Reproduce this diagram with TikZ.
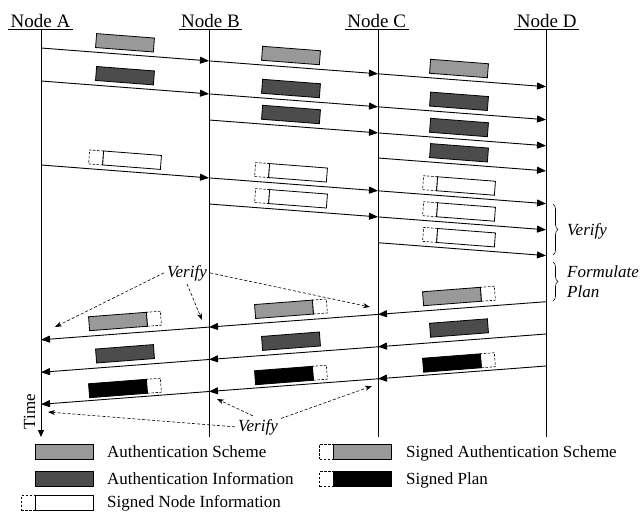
\documentclass[tikz,border=0pt]{standalone}
\usepackage{fontspec}
\setmainfont{Liberation Serif}
\usetikzlibrary{arrows.meta,decorations.pathreplacing}
\definecolor{gAS}{gray}{0.6}
\definecolor{gAI}{gray}{0.3}
\begin{document}
\begin{tikzpicture}[x=1pt,y=-1pt,
 msg/.style={line width=0.9pt,-{Triangle[length=9pt,width=7pt]}},
 life/.style={line width=0.8pt},
 pk/.style={draw,line width=0.8pt,minimum width=58pt,minimum height=14pt,inner sep=0pt,outer sep=0pt},
 sq/.style={draw,dash pattern=on 2.5pt off 1.5pt,line width=0.6pt,minimum width=14pt,minimum height=14pt,inner sep=0pt,outer sep=0pt},
 vf/.style={dash pattern=on 3pt off 2pt,line width=0.6pt,-{Stealth[length=7pt,width=5pt]}},
 fw/.style={rotate=-4.4},
 bw/.style={rotate=4.4},
 hdr/.style={font=\fontsize{19}{22}\selectfont,inner xsep=2.5pt,inner ysep=2pt,anchor=base},
 txt/.style={font=\fontsize{17}{20}\selectfont,inner sep=3pt},
 itxt/.style={font=\fontsize{17}{20}\selectfont\itshape,inner sep=3pt},
 brc/.style={decorate,decoration={brace,amplitude=5pt},line width=0.6pt}]
\useasboundingbox (0,0) rectangle (641,512);

% headers
\node[hdr] (hA) at (40.5,27) {Node A};
\node[hdr] (hB) at (210.5,27) {Node B};
\node[hdr] (hC) at (376.7,27) {Node C};
\node[hdr] (hD) at (546.7,27) {Node D};
\foreach \n in {A,B,C,D}{\draw[line width=0.8pt] (h\n.south west) -- (h\n.south east);}

% lifelines
\coordinate (eA) at (41,437);
\coordinate (eB) at (209,437);
\coordinate (eC) at (378,437);
\coordinate (eD) at (546,437);
\draw[life,-{Triangle[length=7pt,width=6pt]}] (hA.south -| eA) -- (eA);
\draw[life] (hB.south -| eB) -- (eB);
\draw[life] (hC.south -| eC) -- (eC);
\draw[life] (hD.south -| eD) -- (eD);
\node[txt,rotate=90,anchor=base] (time) at (35,411.5) {Time};

% message coordinates
\coordinate (r1a) at (41,48);   \coordinate (r1b) at (209,60.9);  \coordinate (r1c) at (378,73.8);  \coordinate (r1d) at (546,86.7);
\coordinate (r2a) at (41,81);   \coordinate (r2b) at (209,93.9);  \coordinate (r2c) at (378,106.8); \coordinate (r2d) at (546,119.7);
\coordinate (r3b) at (209,120); \coordinate (r3c) at (378,132.9); \coordinate (r3d) at (546,145.8);
\coordinate (r4c) at (378,158); \coordinate (r4d) at (546,170.9);
\coordinate (r5a) at (41,165);  \coordinate (r5b) at (209,177.9); \coordinate (r5c) at (378,190.8); \coordinate (r5d) at (546,203.7);
\coordinate (r6b) at (209,204); \coordinate (r6c) at (378,216.9); \coordinate (r6d) at (546,229.8);
\coordinate (r7c) at (378,242.7); \coordinate (r7d) at (546,255.6);
\coordinate (r8d) at (546,301.7); \coordinate (r8c) at (378,314.4); \coordinate (r8b) at (209,327.1); \coordinate (r8a) at (41,339.8);
\coordinate (r9d) at (546,334);   \coordinate (r9c) at (378,346.8); \coordinate (r9b) at (209,359.5); \coordinate (r9a) at (41,372.3);
\coordinate (r10d) at (546,366);  \coordinate (r10c) at (378,378.8); \coordinate (r10b) at (209,391.5); \coordinate (r10a) at (41,404.3);

% messages
\draw[msg] (r1a) -- (r1b); \draw[msg] (r1b) -- (r1c); \draw[msg] (r1c) -- (r1d);
\draw[msg] (r2a) -- (r2b); \draw[msg] (r2b) -- (r2c); \draw[msg] (r2c) -- (r2d);
\draw[msg] (r3b) -- (r3c); \draw[msg] (r3c) -- (r3d);
\draw[msg] (r4c) -- (r4d);
\draw[msg] (r5a) -- (r5b); \draw[msg] (r5b) -- (r5c); \draw[msg] (r5c) -- (r5d);
\draw[msg] (r6b) -- (r6c); \draw[msg] (r6c) -- (r6d);
\draw[msg] (r7c) -- (r7d);
\draw[msg] (r8d) -- (r8c); \draw[msg] (r8c) -- (r8b); \draw[msg] (r8b) -- (r8a);
\draw[msg] (r9d) -- (r9c); \draw[msg] (r9c) -- (r9b); \draw[msg] (r9b) -- (r9a);
\draw[msg] (r10d) -- (r10c); \draw[msg] (r10c) -- (r10b); \draw[msg] (r10b) -- (r10a);

% forward packets
\node[pk,fill=gAS,fw] (p1a) at (125,42.8) {};
\node[pk,fill=gAS,fw] (p1b) at (291,55.5) {};
\node[pk,fill=gAS,fw] (p1c) at (459,68.5) {};
\node[pk,fill=gAI,fw] (p2a) at (125,75.7) {};
\node[pk,fill=gAI,fw] (p2b) at (291,88.5) {};
\node[pk,fill=gAI,fw] (p2c) at (459,101.3) {};
\node[pk,fill=gAI,fw] (p3b) at (291,114.5) {};
\node[pk,fill=gAI,fw] (p3c) at (459,127.5) {};
\node[pk,fill=gAI,fw] (p4c) at (459,152.8) {};
\node[pk,fill=white,fw] (p5a) at (132,160.2) {};
\node[pk,fill=white,fw] (p5b) at (298,172.8) {};
\node[pk,fill=white,fw] (p5c) at (466,186) {};
\node[pk,fill=white,fw] (p6b) at (298,198.8) {};
\node[pk,fill=white,fw] (p6c) at (466,212) {};
\node[pk,fill=white,fw] (p7c) at (466,237.7) {};
\foreach \p in {p5a,p5b,p5c,p6b,p6c,p7c}{\node[sq,fw,anchor=east] (s\p) at (\p.west) {};}

% backward packets
\node[pk,fill=gAS,bw] (p8a) at (118,321.5) {};
\node[pk,fill=gAS,bw] (p8b) at (284,309.3) {};
\node[pk,fill=gAS,bw] (p8c) at (452,296.5) {};
\node[pk,fill=gAI,bw] (p9a) at (125,353.8) {};
\node[pk,fill=gAI,bw] (p9b) at (291,341.2) {};
\node[pk,fill=gAI,bw] (p9c) at (459,328) {};
\node[pk,fill=black,bw] (p10a) at (118,388.5) {};
\node[pk,fill=black,bw] (p10b) at (284,375.5) {};
\node[pk,fill=black,bw] (p10c) at (452,363) {};
\foreach \p in {p8a,p8b,p8c,p10a,p10b,p10c}{\node[sq,bw,anchor=west] (s\p) at (\p.east) {};}

% braces
\coordinate (b1s) at (553,204); \coordinate (b1e) at (553,255);
\coordinate (b2s) at (553,262); \coordinate (b2e) at (553,301);
\draw[brc] (b1s) -- (b1e);
\draw[brc] (b2s) -- (b2e);
\node[itxt,anchor=base west] (bv) at (564,235) {Verify};
\node[itxt,anchor=west,align=left] (bf) at (564,281.5) {Formulate\\Plan};

% verify annotations
\node[itxt,anchor=base] (v1) at (187,277) {Verify};
\coordinate (v1a) at (55,327);
\coordinate (v1b) at (202,320);
\coordinate (v1c) at (370,307);
\draw[vf] (v1.west) -- (v1a);
\draw[vf] (v1.south) -- (v1b);
\draw[vf] (v1.east) -- (v1c);
\node[itxt,anchor=base] (v2) at (258,431) {Verify};
\coordinate (v2a) at (48,412);
\coordinate (v2b) at (217,399);
\coordinate (v2c) at (372,386);
\draw[vf] (v2.west) -- (v2a);
\draw[vf] (v2.115) -- (v2b);
\draw[vf] (v2.20) -- (v2c);

% legend
\node[pk,fill=gAS,minimum height=15pt] (l1) at (64,451.5) {};
\node[txt,anchor=base west] (t1) at (104,457) {Authentication Scheme};
\node[pk,fill=gAI,minimum height=15pt] (l2) at (64,479) {};
\node[txt,anchor=base west] (t2) at (104,484) {Authentication Information};
\node[pk,fill=white,minimum height=15pt] (l3) at (64,503) {};
\node[sq,anchor=east,minimum height=15pt] (sl3) at (l3.west) {};
\node[txt,anchor=base west] (t3) at (104,507.5) {Signed Node Information};
\node[pk,fill=gAS,minimum height=15pt] (l4) at (362.5,451.5) {};
\node[sq,anchor=east,minimum height=15pt] (sl4) at (l4.west) {};
\node[txt,anchor=base west] (t4) at (403,457) {Signed Authentication Scheme};
\node[pk,fill=black,minimum height=15pt] (l5) at (362.5,479) {};
\node[sq,anchor=east,minimum height=15pt] (sl5) at (l5.west) {};
\node[txt,anchor=base west] (t5) at (403,484) {Signed Plan};
\end{tikzpicture}
\end{document}
